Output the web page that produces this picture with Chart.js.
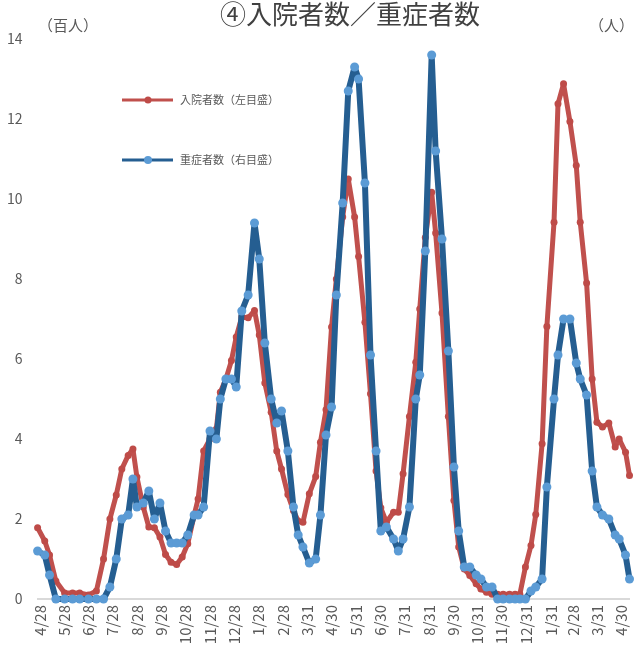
<!DOCTYPE html>
<html lang="ja">
<head>
<meta charset="utf-8">
<script src="https://cdn.jsdelivr.net/npm/chart.js@4.4.1/dist/chart.umd.min.js"></script>
<style>
  html, body { margin: 0; padding: 0; background: #fff; }
  #wrap { width: 634px; height: 650px; }
</style>
</head>
<body>
<div id="wrap"><canvas id="chart" width="634" height="650"></canvas></div>
<script>
  // reporting dates, as days after 2020/4/28
  var days = [
    -3, 6, 12, 20, 31, 41, 50, 61, 71, 80,
    88, 96, 103, 111, 117, 122, 130, 137, 144, 151,
    158, 165, 172, 179, 186, 194, 199, 206, 214, 222,
    227, 234, 241, 247, 254, 262, 270, 276, 283, 291,
    298, 304, 312, 319, 325, 331, 339, 347, 353, 360,
    367, 373, 381, 388, 396, 401, 409, 416, 423, 429,
    436, 445, 451, 457, 465, 473, 478, 485, 493, 498,
    506, 514, 521, 527, 534, 541, 549, 555, 562, 569,
    576, 583, 591, 598, 604, 611, 618, 624, 632, 638,
    647, 652, 659, 667, 675, 680, 688, 695, 701, 708,
    716, 724, 729, 737, 742
  ];

  // 入院者数 (hundreds of people, left axis)
  var inpatients = [
    1.78, 1.45, 1.1, 0.45, 0.15, 0.15, 0.15, 0.1, 0.2, 1.0,
    2.0, 2.6, 3.25, 3.59, 3.75, 3.05, 2.3, 1.8, 1.78, 1.55,
    1.11, 0.92, 0.86, 1.05, 1.38, 2.09, 2.5, 3.7, 4.0, 4.25,
    5.17, 5.5, 5.96, 6.55, 7.05, 7.03, 7.21, 6.6, 5.4, 4.67,
    3.7, 3.25, 2.61, 2.21, 1.95, 1.92, 2.63, 3.06, 3.92, 4.73,
    6.8, 8.0, 9.55, 10.5, 9.55, 8.56, 6.92, 5.13, 3.2, 2.28,
    1.92, 2.17, 2.17, 3.13, 4.56, 5.92, 7.25, 9.04, 10.17, 9.15,
    7.15, 4.56, 2.46, 1.3, 0.75, 0.59, 0.38, 0.25, 0.17, 0.12,
    0.12, 0.12, 0.12, 0.12, 0.12, 0.8, 1.34, 2.11, 3.88, 6.81,
    9.42, 12.38, 12.88, 11.94, 10.84, 9.42, 7.9, 5.5, 4.42, 4.3,
    4.4, 3.8, 4.0, 3.67, 3.09
  ];

  // 重症者数 (people, right axis)
  var severe = [
    12, 11, 6, 0, 0, 0, 0, 0, 0, 0,
    3, 10, 20, 21, 30, 23, 24, 27, 20, 24,
    17, 14, 14, 14, 16, 21, 21, 23, 42, 40,
    50, 55, 55, 53, 72, 76, 94, 85, 64, 50,
    44, 47, 37, 23, 16, 13, 9, 10, 21, 41,
    48, 76, 99, 127, 133, 130, 104, 61, 37, 17,
    18, 15, 12, 15, 23, 50, 56, 87, 136, 112,
    90, 62, 33, 17, 8, 8, 6, 5, 3, 3,
    0, 0, 0, 0, 0, 0, 2, 3, 5, 28,
    50, 61, 70, 70, 59, 55, 51, 32, 23, 21,
    20, 16, 15, 11, 5
  ];

  // axis labels: monthly ticks (days after 2020/4/28)
  var tickDays = [0, 30, 61, 91, 122, 153, 183, 214, 244, 275, 306, 337, 367,
                  398, 428, 459, 490, 520, 551, 581, 612, 643, 671, 702, 732];
  var tickLabels = ['4/28', '5/28', '6/28', '7/28', '8/28', '9/28', '10/28', '11/28', '12/28',
                    '1/28', '2/28', '3/31', '4/30', '5/31', '6/30', '7/31', '8/31', '9/30',
                    '10/31', '11/30', '12/31', '1/31', '2/28', '3/31', '4/30'];

  var FONT = '"Noto Sans CJK JP", "Noto Sans", sans-serif';
  var TEXT = '#595959';

  function pairs(values) {
    return values.map((v, i) => ({ x: days[i], y: v }));
  }

  // title, unit captions and the little legend inside the plot
  var captions = {
    id: 'captions',
    afterDraw(chart) {
      const c = chart.ctx;
      c.save();
      c.fillStyle = '#404040';
      c.textBaseline = 'middle';
      c.textAlign = 'center';
      c.font = '26px ' + FONT;
      c.fillText('④入院者数／重症者数', 350, 14);

      c.fillStyle = TEXT;
      c.font = '15px ' + FONT;
      c.textAlign = 'left';
      c.fillText('（百人）', 38, 25);
      c.textAlign = 'right';
      c.fillText('（人）', 634, 25);

      // legend
      const rows = [
        { y: 100, ds: chart.data.datasets[0], r: 3.5 },
        { y: 160, ds: chart.data.datasets[1], r: 4 }
      ];
      c.textAlign = 'left';
      c.font = '11px ' + FONT;
      rows.forEach(row => {
        c.strokeStyle = row.ds.borderColor;
        c.lineWidth = 3;
        c.beginPath();
        c.moveTo(122, row.y);
        c.lineTo(173, row.y);
        c.stroke();
        c.fillStyle = row.ds.pointBackgroundColor;
        c.beginPath();
        c.arc(148, row.y, row.r, 0, Math.PI * 2);
        c.fill();
        c.fillStyle = TEXT;
        c.fillText(row.ds.label, 180, row.y);
      });
      c.restore();
    }
  };

  var ctx = document.getElementById('chart').getContext('2d');
  var chart = new Chart(ctx, {
    type: 'line',
    data: {
      datasets: [
        {
          label: '入院者数（左目盛）',
          data: pairs(inpatients),
          yAxisID: 'y',
          borderColor: '#C0504D',
          backgroundColor: '#C0504D',
          pointBackgroundColor: '#BE4B48',
          pointBorderWidth: 0,
          pointRadius: 3.5,
          borderWidth: 5,
          tension: 0,
          clip: false,
          order: 2
        },
        {
          label: '重症者数（右目盛）',
          data: pairs(severe),
          yAxisID: 'y2',
          borderColor: '#255E91',
          backgroundColor: '#5B9BD5',
          pointBackgroundColor: '#5B9BD5',
          pointBorderWidth: 0,
          pointRadius: 4.5,
          borderWidth: 6,
          tension: 0,
          clip: false,
          order: 1
        }
      ]
    },
    options: {
      responsive: false,
      animation: false,
      layout: { padding: { top: 39, right: 3, left: 0, bottom: 0 } },
      plugins: {
        legend: { display: false },
        title: { display: false },
        tooltip: { enabled: false }
      },
      datasets: { line: { borderJoinStyle: 'round', borderCapStyle: 'round' } },
      scales: {
        x: {
          type: 'linear',
          min: -3,
          max: 742,
          grid: { display: false, drawTicks: false },
          border: { display: true, color: '#D9D9D9', width: 2 },
          afterBuildTicks: s => { s.ticks = tickDays.map(v => ({ value: v })); },
          afterFit: s => {
            s.height = 51;
            s.paddingLeft = 0;
            s.paddingRight = 0;
          },
          ticks: {
            autoSkip: false,
            minRotation: 90,
            maxRotation: 90,
            padding: 6,
            color: TEXT,
            font: { family: FONT, size: 15 },
            callback: v => tickLabels[tickDays.indexOf(v)]
          }
        },
        y: {
          position: 'left',
          min: 0,
          max: 14,
          grid: { display: false, drawTicks: false },
          border: { display: false },
          afterFit: s => {
            s.width = 37.6;
            s.paddingTop = 0;
            s.paddingBottom = 0;
          },
          ticks: {
            stepSize: 2,
            padding: 15,
            color: TEXT,
            font: { family: FONT, size: 14 }
          }
        },
        y2: {
          position: 'right',
          display: false,
          min: 0,
          max: 140
        }
      }
    },
    plugins: [captions]
  });
</script>
</body>
</html>
